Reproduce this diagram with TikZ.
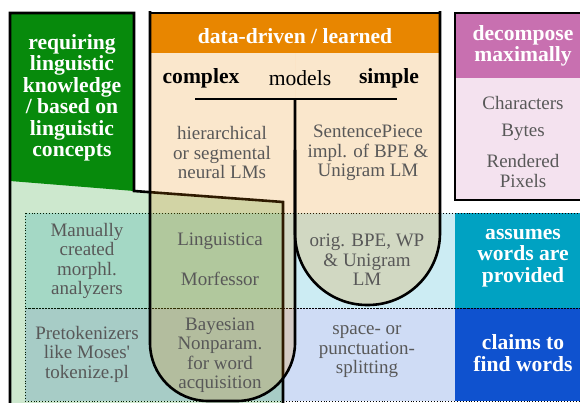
\documentclass[tikz,border=0pt]{standalone}
\usepackage{fontspec}
\setmainfont{Liberation Serif}
\definecolor{lingreen}{HTML}{078A0C}
\definecolor{dataorange}{HTML}{E88600}
\definecolor{decpink}{HTML}{C870B0}
\definecolor{wordteal}{HTML}{00A2C2}
\definecolor{findblue}{HTML}{0F52CF}
\definecolor{textgray}{HTML}{585858}
\newcommand{\bodyfont}{\fontsize{19}{19.5}\selectfont}
\newcommand{\headfont}{\fontsize{21.6}{21.5}\selectfont\bfseries}
\newcommand{\midfont}{\fontsize{21.6}{21.5}\selectfont}

\begin{document}
\begin{tikzpicture}[x=1pt,y=-1pt,
    bodytext/.style={text=textgray,align=center,font=\bodyfont,inner sep=0pt},
    headtext/.style={text=white,align=center,font=\headfont,inner sep=0pt},
    border/.style={line width=2.6pt},
    rowline/.style={dotted,line width=0.9pt}]
  \useasboundingbox (0,0) rectangle (580,403);
  % rows
  \fill[wordteal,fill opacity=0.2] (25,213) rectangle (592,308);
  \fill[findblue,fill opacity=0.2] (25,308) rectangle (592,401);
  \fill[wordteal] (455,213) rectangle (592,308);
  \fill[findblue] (455,308) rectangle (592,401);
  \draw[rowline] (25,213) rectangle (592,308);
  \draw[rowline] (25,308) rectangle (592,401);
  % decompose maximally
  \fill[decpink,fill opacity=0.2] (455,13) rectangle (592,200);
  \fill[decpink] (455,13) rectangle (592,78);
  \draw[border] (455,13) rectangle (592,200);
  % linguistic
  \fill[lingreen,fill opacity=0.2] (10,13) -- (134,13) -- (134,191) -- (283,202) -- (283,410) -- (10,410) -- cycle;
  \fill[lingreen] (10,13) -- (134,13) -- (134,191) -- (10,181) -- cycle;
  \draw[border] (10,410) -- (10,13) -- (134,13) -- (134,191) -- (283,202) -- (283,410);
  % data-driven / learned
  \begin{scope}
    \clip (140,13) rectangle (450,410);
    \fill[dataorange,fill opacity=0.2,rounded corners=58] (150,-100) -- (150,401) -- (295,401) -- (295,-100) -- cycle;
    \fill[dataorange,fill opacity=0.2,rounded corners=72] (295,-100) -- (295,305) -- (440,305) -- (440,-100) -- cycle;
  \end{scope}
  \fill[dataorange] (150,13) rectangle (440,53);
  \begin{scope}
    \clip (140,11.7) rectangle (450,410);
    \draw[border,rounded corners=58] (150,-100) -- (150,401) -- (295,401) -- (295,99);
    \draw[border,rounded corners=72] (295,150) -- (295,305) -- (440,305) -- (440,-100);
  \end{scope}
  \draw[border] (150,13) -- (440,13);
  \draw[border] (195,99) -- (397,99);

  % headers
  \node[headtext] (ling) at (72,98) {requiring\\linguistic\\knowledge\\/ based on\\linguistic\\concepts};
  \node[headtext] (data) at (295,36) {data-driven / learned};
  \node[headtext] (decomp) at (523,46) {decompose\\maximally};
  \node[headtext] (assumes) at (523,258) {assumes\\words are\\provided};
  \node[headtext] (claims) at (523,353) {claims to\\find words};
  \node[font=\headfont,inner sep=0pt] (complex) at (201,78) {complex};
  \node[font=\midfont,inner sep=0pt] (models) at (300,78) {models};
  \node[font=\headfont,inner sep=0pt] (simple) at (389,78) {simple};

  % contents
  \node[bodytext] (hier) at (222,153) {hierarchical\\or segmental\\neural LMs};
  \node[bodytext] (spiece) at (368,153) {SentencePiece\\impl. of BPE \&\\Unigram LM};
  \node[bodytext] (chars) at (523,103) {Characters};
  \node[bodytext] (bytes) at (523,132) {Bytes};
  \node[bodytext] (pixels) at (523,171) {Rendered\\Pixels};
  \node[bodytext] (manual) at (87,261) {Manually\\created\\morphl.\\analyzers};
  \node[bodytext] (lingu) at (220,241) {Linguistica};
  \node[bodytext] (morf) at (220,279) {Morfessor};
  \node[bodytext] (orig) at (367,260) {orig. BPE, WP\\\& Unigram\\LM};
  \node[bodytext] (pretok) at (87,354) {Pretokenizers\\like Moses\textquotesingle\\tokenize.pl};
  \node[bodytext] (bayes) at (220,355) {Bayesian\\Nonparam.\\for word\\acquisition};
  \node[bodytext] (space) at (367,352) {space- or\\punctuation-\\splitting};
\end{tikzpicture}
\end{document}
